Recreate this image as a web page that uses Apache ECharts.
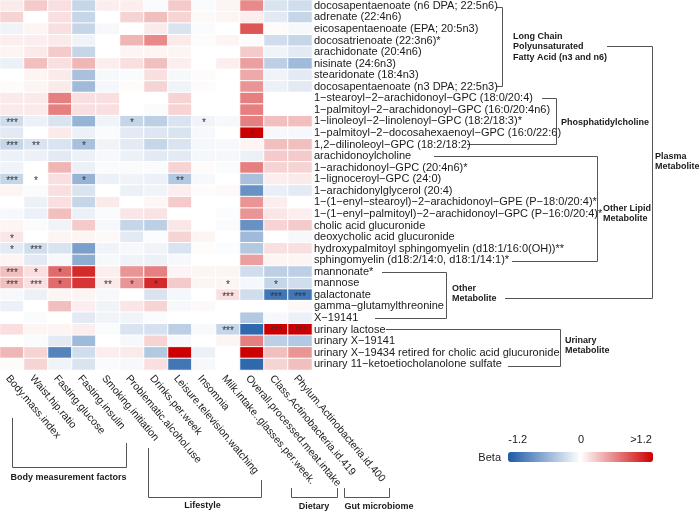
<!DOCTYPE html>
<html><head><meta charset="utf-8">
<script src="https://cdn.jsdelivr.net/npm/echarts@6/dist/echarts.min.js"></script>
<style>html,body{margin:0;padding:0;background:#fff}#c{width:699px;height:511px}</style>
</head><body><div id="c"></div>
<script>
// ---------- DATA ----------
const exposures = ['Body.mass.index','Waist.hip.ratio','Fasting.glucose','Fasting.insulin','Smoking.initiation','Problematic.alcohol.use','Drinks.per.week','Leisure.television.watching','Insomnia','Milk.intake..glasses.per.week.','Overall.processed.meat.intake','Class.Actinobacteria.id.419','Phylum.Actinobacteria.id.400'];
const metabolites = [
 'docosapentaenoate (n6 DPA; 22:5n6)','adrenate (22:4n6)','eicosapentaenoate (EPA; 20:5n3)','docosatrienoate (22:3n6)*',
 'arachidonate (20:4n6)','nisinate (24:6n3)','stearidonate (18:4n3)','docosapentaenoate (n3 DPA; 22:5n3)',
 '1\u2212stearoyl\u22122\u2212arachidonoyl\u2212GPC (18:0/20:4)','1\u2212palmitoyl\u22122\u2212arachidonoyl\u2212GPC (16:0/20:4n6)',
 '1\u2212linoleoyl\u22122\u2212linolenoyl\u2212GPC (18:2/18:3)*','1\u2212palmitoyl\u22122\u2212docosahexaenoyl\u2212GPC (16:0/22:6)',
 '1,2\u2212dilinoleoyl\u2212GPC (18:2/18:2)','arachidonoylcholine','1\u2212arachidonoyl\u2212GPC (20:4n6)*','1\u2212lignoceroyl\u2212GPC (24:0)',
 '1\u2212arachidonylglycerol (20:4)','1\u2212(1\u2212enyl\u2212stearoyl)\u22122\u2212arachidonoyl\u2212GPE (P\u221218:0/20:4)*',
 '1\u2212(1\u2212enyl\u2212palmitoyl)\u22122\u2212arachidonoyl\u2212GPC (P\u221216:0/20:4)*','cholic acid glucuronide','deoxycholic acid glucuronide',
 'hydroxypalmitoyl sphingomyelin (d18:1/16:0(OH))**','sphingomyelin (d18:2/14:0, d18:1/14:1)*',
 'mannonate*','mannose','galactonate','gamma\u2212glutamylthreonine','X\u221219141',
 'urinary lactose','urinary X\u221219141','urinary X\u221219434 retired for cholic acid glucuronide','urinary 11\u2212ketoetiocholanolone sulfate'];

// beta per exposure (one value per metabolite, top to bottom)
const bmi      = [0.1,0.2,-0.08,0.08,0.05,-0.1,0,0.02,0.1,0.1,-0.25,-0.15,-0.3,-0.1,-0.08,-0.3,0.05,0,-0.05,0.05,0.12,-0.15,0.05,0.3,0.3,-0.05,-0.1,0,0.15,0,0.35,0.02];
const whr      = [0.25,0,0.05,0.08,0.1,0.3,0.05,0.05,0.1,0.1,-0.1,0,-0.2,-0.1,0,0,-0.03,-0.1,-0.1,-0.03,0,-0.25,-0.15,0.15,0.15,-0.1,0,-0.03,0.05,-0.03,0.2,0.2];
const glucose  = [0.15,0.15,0.15,0.1,0.25,0.15,0.1,0.1,0.6,0.6,-0.2,0.1,-0.2,-0.15,0.35,0.15,0.15,0.15,0.3,-0.08,0.05,-0.2,-0.05,0.7,0.7,0.05,0.3,0,0.05,-0.15,-0.9,-0.08];
const insulin  = [-0.3,-0.3,-0.3,-0.08,-0.3,0.35,-0.45,-0.5,0.15,0.15,-0.55,-0.1,-0.45,-0.1,-0.1,-0.55,-0.2,-0.3,-0.1,0.25,0.05,-0.7,-0.6,1.0,0.95,0.05,0.08,-0.15,0.08,-0.5,-0.25,-0.2];
const smoking  = [0.08,0,-0.05,0,0,0.08,-0.05,-0.06,0.15,0.15,-0.08,-0.03,-0.08,-0.05,-0.03,-0.1,0,0.1,-0.03,-0.05,0.03,-0.08,-0.05,0.08,0.1,-0.05,-0.08,-0.08,-0.03,0,0.08,-0.03];
const alcohol  = [0.08,0.2,0,0.35,0.05,0.15,-0.03,0.02,0,0,-0.3,-0.15,-0.15,-0.1,-0.03,-0.08,-0.1,0,0.12,-0.3,-0.15,-0.05,-0.08,0.5,0.5,0,0.12,-0.08,-0.2,-0.05,0.1,-0.05];
const drinks   = [-0.03,0.3,0.1,0.55,0.05,0.3,0.15,0.2,0,-0.03,-0.35,-0.18,-0.3,-0.15,-0.03,-0.1,-0.08,0.04,0.13,-0.35,-0.02,-0.08,-0.1,0.6,1.0,-0.2,0.2,-0.03,-0.22,0.2,-0.4,0.15];
const tv       = [0.25,0.2,-0.2,0.1,0.05,0.08,-0.05,-0.08,0.2,0.2,-0.2,-0.2,-0.2,-0.15,0.2,-0.4,0.08,0.25,0,0.12,0.2,-0.2,-0.05,0.05,0.25,-0.06,-0.05,0,-0.35,-0.05,1.2,-1.0];
const insomnia = [-0.03,0.03,-0.03,0.02,0,0,0.02,0.02,0,0,-0.08,-0.05,-0.06,-0.06,0.02,-0.05,0.02,0,0,0,0.05,0.02,0,0.05,0.05,0,0.03,0,-0.04,0,-0.1,-0.05];
const milk     = [0.05,0.05,0,0.05,0,0.08,0,0,0,0,-0.05,0,-0.05,-0.06,-0.03,0,0.03,0,-0.02,-0.03,0,-0.02,0,0.05,0.05,0.15,0,0,-0.3,0.05,0,0];
const meat     = [0.55,0.08,0.8,0.02,0.25,0.45,0.4,0.5,0.6,0.6,0.6,1.2,0.05,-0.1,0.6,-0.45,-0.8,0.5,0.5,-0.8,-0.5,-0.4,0.45,-0.25,-0.06,-0.25,0,-0.4,-1.1,0.6,1.2,-1.1];
const classAct = [-0.2,-0.15,0.02,-0.25,-0.08,-0.35,-0.08,-0.1,0,0,0.3,-0.05,0.3,0.25,0.2,0.08,-0.12,0.08,0.12,0.2,0,0.15,0.05,-0.35,-0.3,-1.0,0,-0.05,1.2,-0.35,0.3,0.2];
const phylumAct= [-0.25,-0.3,-0.05,-0.3,-0.15,-0.5,-0.15,-0.15,0,0,0.3,-0.05,0.3,0.25,0.2,0.1,-0.15,0,0.08,0.25,-0.05,0.15,0.05,-0.35,-0.25,-1.0,0.03,-0.1,1.2,-0.4,0.5,0.3];

// significance marks: [metabolite index, exposure index, mark]
const sigCells = [
 [10,0,'***'],[10,5,'*'],[10,8,'*'],[11,10,'*'],
 [12,0,'***'],[12,1,'**'],[12,3,'*'],
 [15,0,'***'],[15,1,'*'],[15,3,'*'],[15,7,'**'],
 [20,0,'*'],[21,0,'*'],[21,1,'***'],
 [23,0,'***'],[23,1,'*'],[23,2,'*'],
 [24,0,'***'],[24,1,'***'],[24,2,'*'],[24,4,'**'],[24,5,'*'],[24,6,'*'],[24,9,'*'],[24,11,'*'],
 [25,9,'***'],[25,11,'***'],[25,12,'***'],
 [28,9,'***'],[28,11,'***'],[28,12,'***']];

const legendTicks = ['-1.2','0','>1.2'];

// ---------- BUILD ----------
const columns = [bmi,whr,glucose,insulin,smoking,alcohol,drinks,tv,insomnia,milk,meat,classAct,phylumAct];
const sigMap = {};
sigCells.forEach(s => { sigMap[s[0]+'_'+s[1]] = s[2]; });
const data = [];
columns.forEach((col, c) => col.forEach((v, r) => data.push([c, r, Math.max(-1.2, Math.min(1.2, v))])));

const FONT = '"Liberation Sans", Arial, sans-serif';
const LC = '#555555';
function line(pts){ return {type:'polyline', silent:true, shape:{points:pts}, style:{stroke:LC, lineWidth:1, fill:null}}; }
function label(x, y, text, align, lh){
  return {type:'text', silent:true, x:x, y:y, style:{text:text, font:'bold 9px '+FONT, fill:'#1a1a1a',
    align:align||'left', verticalAlign:'middle', textAlign:align||'left', textVerticalAlign:'middle', lineHeight:lh||10.5}};
}
function plain(x, y, text, align){
  return {type:'text', silent:true, x:x, y:y, style:{text:text, font:'11px '+FONT, fill:'#1a1a1a',
    align:align, verticalAlign:'middle', textAlign:align, textVerticalAlign:'middle'}};
}

const graphics = [
  line([[496,7.5],[502.5,7.5],[502.5,86.5],[496,86.5]]),
  label(513,46.7,'Long Chain\nPolyunsaturated\nFatty Acid (n3 and n6)'),
  line([[542,98.5],[556.5,98.5],[556.5,144.5],[467,144.5]]),
  label(561,122.3,'Phosphatidylcholine'),
  line([[434,156.5],[597.5,156.5],[597.5,261.5],[512,261.5]]),
  label(603,213.3,'Other Lipid\nMetabolite'),
  line([[382,272.5],[446.5,272.5],[446.5,318.5],[375,318.5]]),
  label(452,293.7,'Other\nMetabolite'),
  line([[386,329.5],[560.5,329.5],[560.5,366.5],[508,366.5]]),
  label(565,345.7,'Urinary\nMetabolite'),
  line([[607,46.5],[652.5,46.5],[652.5,298.5],[505,298.5]]),
  label(655,161.7,'Plasma\nMetabolite'),
  line([[12.5,418],[12.5,467.5],[126.5,467.5],[126.5,443]]),
  label(68.5,477.5,'Body measurement factors','center'),
  line([[148.5,448],[148.5,497.5],[261.5,497.5],[261.5,480]]),
  label(202.5,505.5,'Lifestyle','center'),
  line([[291.5,488],[291.5,497.5],[337.5,497.5],[337.5,488]]),
  label(314,506.5,'Dietary','center'),
  line([[344.5,488],[344.5,497.5],[389.5,497.5],[389.5,488]]),
  label(379,506.5,'Gut microbiome','center'),
  plain(501,457.5,'Beta','right'),
  plain(517.7,440,legendTicks[0],'center'),
  plain(581,440,legendTicks[1],'center'),
  plain(641,440,legendTicks[2],'center')
];

const chart = echarts.init(document.getElementById('c'), null, {renderer:'canvas'});
chart.setOption({
  animation:false,
  backgroundColor:'#ffffff',
  textStyle:{fontFamily:FONT},
  grid:{left:0, top:0, width:312, height:370, containLabel:false},
  xAxis:{type:'category', data:exposures, position:'bottom',
    axisLine:{show:false}, axisTick:{show:false}, splitLine:{show:false},
    axisLabel:{interval:0, rotate:-50, align:'left', verticalAlign:'top', margin:3, fontSize:10.5, color:'#1a1a1a', fontFamily:FONT}},
  yAxis:{type:'category', data:metabolites, inverse:true, position:'right',
    axisLine:{show:false}, axisTick:{show:false}, splitLine:{show:false},
    axisLabel:{interval:0, margin:2, fontSize:11, color:'#1a1a1a', fontFamily:FONT}},
  visualMap:{type:'continuous', min:-1.2, max:1.2, calculable:false, orient:'horizontal',
    left:508, top:452, itemWidth:10, itemHeight:145, padding:0, text:null, showLabel:false,
    inRange:{color:['#1c5aa6','#ffffff','#cc0000']}, hoverLink:false},
  series:[{type:'heatmap', data:data,
    itemStyle:{borderColor:'#ffffff', borderWidth:1},
    emphasis:{disabled:true},
    label:{show:true, fontSize:10, color:'#333333', fontFamily:FONT, offset:[0,2],
      formatter:p => sigMap[p.data[1]+'_'+p.data[0]] || ''}}],
  graphic:graphics
});
</script></body></html>
